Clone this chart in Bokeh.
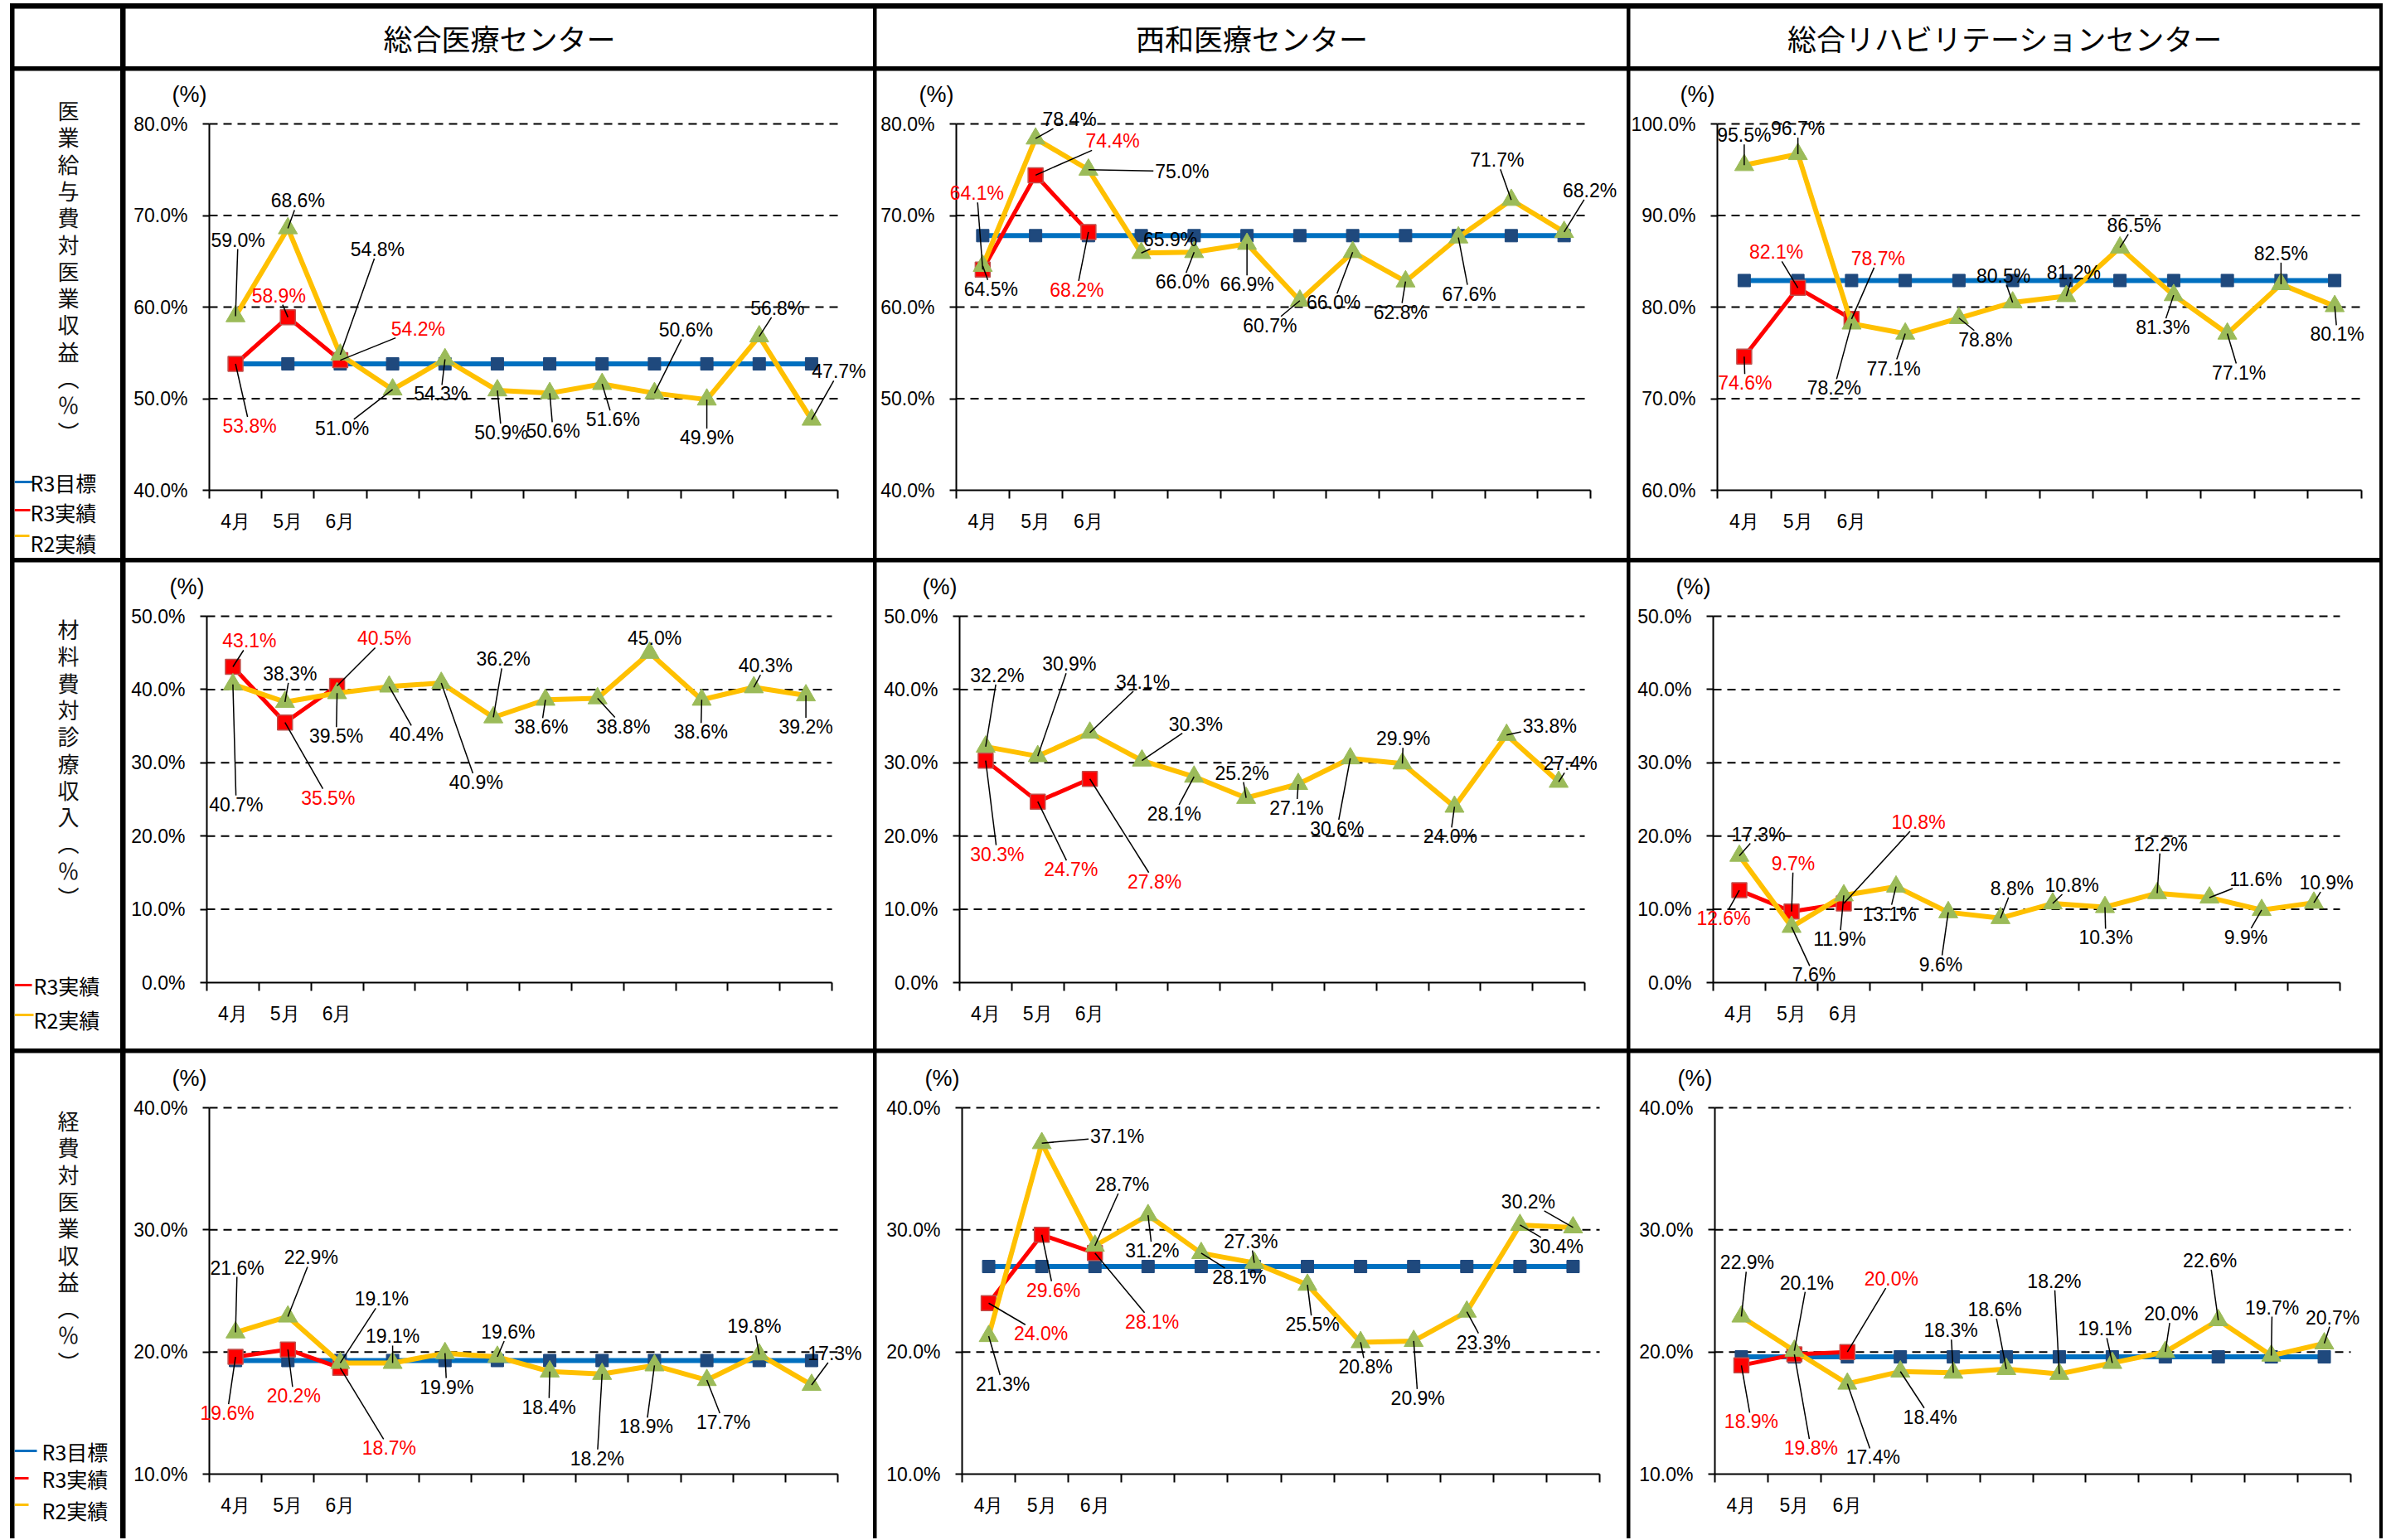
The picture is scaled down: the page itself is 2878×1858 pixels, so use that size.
import math
from bokeh.plotting import figure
from bokeh.models import Range1d, FixedTicker, PrintfTickFormatter, ColumnDataSource, LabelSet, Label, Spacer
from bokeh.layouts import row, column
from bokeh.embed import file_html
from bokeh.resources import INLINE
from bokeh.core.properties import value

# ---------------- data ----------------
months = ["4月", "5月", "6月", "7月", "8月", "9月", "10月", "11月", "12月", "1月", "2月", "3月"]
month_tick_labels = ["4月", "5月", "6月", "", "", "", "", "", "", "", "", ""]
centers = ["総合医療センター", "西和医療センター", "総合リハビリテーションセンター"]
metric_names = ["医業給与費対医業収益", "材料費対診療収入", "経費対医業収益"]
series_names = ["R3目標", "R3実績", "R2実績"]

# 医業給与費対医業収益
sogo_salary_target = [53.8, 53.8, 53.8, 53.8, 53.8, 53.8, 53.8, 53.8, 53.8, 53.8, 53.8, 53.8]
sogo_salary_r3 = [53.8, 58.9, 54.2]
sogo_salary_r2 = [59.0, 68.6, 54.8, 51.0, 54.3, 50.9, 50.6, 51.6, 50.6, 49.9, 56.8, 47.7]
seiwa_salary_target = [67.8, 67.8, 67.8, 67.8, 67.8, 67.8, 67.8, 67.8, 67.8, 67.8, 67.8, 67.8]
seiwa_salary_r3 = [64.1, 74.4, 68.2]
seiwa_salary_r2 = [64.5, 78.4, 75.0, 65.9, 66.0, 66.9, 60.7, 66.0, 62.8, 67.6, 71.7, 68.2]
reha_salary_target = [82.9, 82.9, 82.9, 82.9, 82.9, 82.9, 82.9, 82.9, 82.9, 82.9, 82.9, 82.9]
reha_salary_r3 = [74.6, 82.1, 78.7]
reha_salary_r2 = [95.5, 96.7, 78.2, 77.1, 78.8, 80.5, 81.2, 86.5, 81.3, 77.1, 82.5, 80.1]

# 材料費対診療収入
sogo_material_r3 = [43.1, 35.5, 40.5]
sogo_material_r2 = [40.7, 38.3, 39.5, 40.4, 40.9, 36.2, 38.6, 38.8, 45.0, 38.6, 40.3, 39.2]
seiwa_material_r3 = [30.3, 24.7, 27.8]
seiwa_material_r2 = [32.2, 30.9, 34.1, 30.3, 28.1, 25.2, 27.1, 30.6, 29.9, 24.0, 33.8, 27.4]
reha_material_r3 = [12.6, 9.7, 10.8]
reha_material_r2 = [17.3, 7.6, 11.9, 13.1, 9.6, 8.8, 10.8, 10.3, 12.2, 11.6, 9.9, 10.9]

# 経費対医業収益
sogo_expense_target = [19.3, 19.3, 19.3, 19.3, 19.3, 19.3, 19.3, 19.3, 19.3, 19.3, 19.3, 19.3]
sogo_expense_r3 = [19.6, 20.2, 18.7]
sogo_expense_r2 = [21.6, 22.9, 19.1, 19.1, 19.9, 19.6, 18.4, 18.2, 18.9, 17.7, 19.8, 17.3]
seiwa_expense_target = [27.0, 27.0, 27.0, 27.0, 27.0, 27.0, 27.0, 27.0, 27.0, 27.0, 27.0, 27.0]
seiwa_expense_r3 = [24.0, 29.6, 28.1]
seiwa_expense_r2 = [21.3, 37.1, 28.7, 31.2, 28.1, 27.3, 25.5, 20.8, 20.9, 23.3, 30.4, 30.2]
reha_expense_target = [19.6, 19.6, 19.6, 19.6, 19.6, 19.6, 19.6, 19.6, 19.6, 19.6, 19.6, 19.6]
reha_expense_r3 = [18.9, 19.8, 20.0]
reha_expense_r2 = [22.9, 20.1, 17.4, 18.4, 18.3, 18.6, 18.2, 19.1, 20.0, 22.6, 19.7, 20.7]

# ---------------- label placement (screen px offsets: dx right, dy up) ----------------
lab_p1_r2 = [(3, 92), (12, 33), (45, 127), (-61, -47), (-5, -42), (5, -51), (4, -46), (13, -43), (38, 76), (0, -46), (22, 34), (33, 58)]
lab_p1_r3 = [(17, -75), (-11, 26), (94, 38)]
lab_p2_r2 = [(10, -28), (41, 23), (113, -2), (35, 16), (-14, -36), (0, -49), (-36, -30), (-23, -61), (-6, -37), (13, -68), (-17, 48), (31, 50)]
lab_p2_r3 = [(-7, 92), (93, 41), (-14, -70)]
lab_p3_r2 = [(0, 36), (0, 31), (-21, -78), (-14, -42), (32, -26), (-11, 32), (9, 28), (17, 27), (-13, -39), (14, -47), (0, 37), (3, -34)]
lab_p3_r3 = [(1, -32), (-26, 43), (32, 73)]
lab_p4_r2 = [(4, -145), (6, 34), (-1, -52), (33, -58), (42, -120), (12, 70), (-5, -33), (31, -34), (6, 18), (-1, -39), (14, 26), (0, -38)]
lab_p4_r3 = [(20, 31), (52, -91), (57, 57)]
lab_p5_r2 = [(14, 86), (38, 111), (64, 61), (65, 44), (-24, -45), (-5, 30), (-2, -29), (-16, -85), (1, 30), (-5, -36), (52, 11), (14, 22)]
lab_p5_r3 = [(14, -113), (40, -82), (78, -124)]
lab_p6_r2 = [(23, 26), (27, -58), (-5, -53), (-8, -33), (-9, -63), (14, 36), (23, 22), (1, -37), (4, 59), (56, 22), (-19, -33), (15, 24)]
lab_p6_r3 = [(-19, -34), (2, 58), (90, 98)]
lab_p7_r2 = [(2, 78), (28, 71), (50, 77), (0, 32), (2, -41), (13, 30), (-1, -43), (-6, -102), (-10, -74), (20, -51), (-6, 34), (28, 38)]
lab_p7_r3 = [(-10, -68), (7, -56), (59, -97)]
lab_p8_r2 = [(17, -58), (91, 8), (33, 74), (5, -43), (46, -29), (-4, 26), (6, -48), (6, -30), (5, -69), (20, -37), (44, -26), (-54, 31)]
lab_p8_r3 = [(63, -37), (14, -67), (69, -83)]
lab_p9_r2 = [(7, 65), (15, 82), (31, -89), (36, -55), (-3, 51), (-14, 72), (-6, 112), (-9, 41), (7, 46), (-10, 72), (1, 58), (10, 31)]
lab_p9_r3 = [(12, -68), (20, -113), (53, 88)]

NUM_FONT = "Liberation Sans"
JP_FONT = "Noto Sans CJK JP"
C_TARGET_LINE = "#0070C0"
C_TARGET_MARK = "#1F497D"
C_R3 = "#FF0000"
C_R3_EDGE = "#C0504D"
C_R2 = "#FFC000"
C_R2_MARK = "#9BBB59"

W_LEFT = 128
W_P = [902, 905, 904]
H_HEAD = 70
H_ROWS = [588, 587, 586]
# frame insets inside each cell: left, right, top, bottom
BORDERS = [
    [(101, 43, 64, 82), (96, 44, 64, 82), (105, 22, 64, 82)],
    [(98, 50, 65, 80), (100, 51, 65, 80), (100, 48, 65, 80)],
    [(101, 43, 66, 78), (103, 33, 66, 78), (102, 35, 66, 78)],
]
YRANGES = [
    [(40, 80), (40, 80), (60, 100)],
    [(0, 50), (0, 50), (0, 50)],
    [(10, 40), (10, 40), (10, 40)],
]


def blank_cell(w, h):
    p = figure(width=w, height=h, x_range=Range1d(0, w), y_range=Range1d(0, h),
               toolbar_location=None, output_backend="svg", title=None,
               x_axis_location=None, y_axis_location=None, min_border=0)
    p.grid.visible = False
    p.outline_line_color = None
    p.background_fill_color = "white"
    p.border_fill_color = "white"
    return p


def text_width(t):
    w = 0
    for ch in t:
        if ch.isdigit():
            w += 12.8
        elif ch == ".":
            w += 6.4
        elif ch == "%":
            w += 20.4
    return w


def add_labels(p, xs, vals, offs, color, sx, sy):
    lx, ly, txt = [], [], []
    x0s, y0s, x1s, y1s = [], [], [], []
    for xi, v, (dx, dy) in zip(xs, vals, offs):
        t = f"{v:.1f}%"
        lx.append(xi + dx / sx)
        ly.append(v + dy / sy)
        txt.append(t)
        hw = text_width(t) / 2 + 2
        hh = 11
        vx, vy = -dx, -dy
        ts = []
        if abs(vx) > 1e-9:
            ts.append(hw / abs(vx))
        if abs(vy) > 1e-9:
            ts.append(hh / abs(vy))
        tt = min(ts) if ts else 1.0
        if tt < 1.0:
            bx, by = dx + tt * vx, dy + tt * vy
            if math.hypot(bx, by) > 12:
                x0s.append(xi)
                y0s.append(v)
                x1s.append(xi + bx / sx)
                y1s.append(v + by / sy)
    if x0s:
        p.segment(x0=x0s, y0=y0s, x1=x1s, y1=y1s, line_color="black", line_width=1.5)
    src = ColumnDataSource(dict(x=lx, y=ly, text=txt))
    p.add_layout(LabelSet(x="x", y="y", text="text", source=src, text_align="center",
                          text_baseline="middle", text_font=value(NUM_FONT),
                          text_font_size=value("23px"), text_color=color))


def make_panel(w, h, borders, yrange, target, r3, r2, off_r2, off_r3):
    bl, br, bt, bb = borders
    ymin, ymax = yrange
    fw = w - bl - br
    fh = h - bt - bb
    sx = fw / 12.0
    sy = fh / float(ymax - ymin)
    p = figure(width=w, height=h,
               x_range=Range1d(0.5 - bl / sx, 12.5 + br / sx),
               y_range=Range1d(ymin - bb / sy, ymax + bt / sy),
               toolbar_location=None, output_backend="svg", title=None, min_border=0)
    p.background_fill_color = "white"
    p.border_fill_color = "white"
    p.outline_line_color = None
    p.xgrid.visible = False
    p.ygrid.visible = False

    yticks = list(range(ymin, ymax + 1, 10))
    yax = p.yaxis[0]
    yax.fixed_location = 0.5
    yax.bounds = (ymin, ymax)
    yax.ticker = FixedTicker(ticks=yticks)
    yax.formatter = PrintfTickFormatter(format="%.1f%%")
    yax.major_label_text_font = NUM_FONT
    yax.major_label_text_font_size = "23px"
    yax.major_label_text_color = "black"
    yax.major_tick_out = 8
    yax.major_tick_in = 0
    yax.major_tick_line_width = 2
    yax.major_tick_line_color = "black"
    yax.minor_tick_line_color = None
    yax.axis_line_width = 2
    yax.axis_line_color = "black"
    yax.major_label_standoff = 18

    xs = list(range(1, 13))
    xax = p.xaxis[0]
    xax.fixed_location = ymin
    xax.bounds = (0.5, 12.5)
    xax.ticker = FixedTicker(ticks=xs, minor_ticks=[i + 0.5 for i in range(13)])
    xax.major_label_overrides = {i + 1: lab for i, lab in enumerate(month_tick_labels)}
    xax.major_label_text_font = NUM_FONT
    xax.major_label_text_font_size = "23px"
    xax.major_label_text_color = "black"
    xax.major_tick_line_color = None
    xax.major_tick_out = 0
    xax.major_tick_in = 0
    xax.minor_tick_out = 10
    xax.minor_tick_in = 0
    xax.minor_tick_line_width = 2
    xax.minor_tick_line_color = "black"
    xax.axis_line_width = 2
    xax.axis_line_color = "black"
    xax.major_label_standoff = 14

    # dashed horizontal gridlines across the plotting area
    gl = yticks[1:]
    p.segment(x0=[0.5] * len(gl), x1=[12.5] * len(gl), y0=gl, y1=gl,
              line_color="black", line_width=2, line_dash="10 7")

    if target is not None:
        p.line(xs, target, line_color=C_TARGET_LINE, line_width=6)
        p.scatter(xs, target, marker="square", size=15, fill_color=C_TARGET_MARK, line_color=C_TARGET_MARK)
    x3 = xs[:len(r3)]
    p.line(x3, r3, line_color=C_R3, line_width=5)
    p.scatter(x3, r3, marker="square", size=18, fill_color=C_R3, line_color=C_R3_EDGE, line_width=1.5)
    p.line(xs, r2, line_color=C_R2, line_width=6)
    p.scatter(xs, r2, marker="triangle", size=23, fill_color=C_R2_MARK, line_color=C_R2_MARK)

    add_labels(p, xs, r2, off_r2, "black", sx, sy)
    add_labels(p, x3, r3, off_r3, C_R3, sx, sy)

    p.add_layout(Label(x=0.5 - 24 / sx, y=ymax + 36 / sy, text="(%)", text_align="center",
                       text_baseline="middle", text_font=NUM_FONT, text_font_size="27px",
                       text_color="black"))
    return p


def header_cell(w, h, txt):
    p = blank_cell(w, h)
    if txt:
        p.text(x=[w / 2], y=[h / 2], text=[txt], text_align="center", text_baseline="middle",
               text_font=value(JP_FONT), text_font_size=value("35px"), text_color="black")
    return p


def left_cell(h, name, first_y, legend):
    p = blank_cell(W_LEFT, h)
    chars = list(name) + ["︵", "％", "︶"]
    pitch = 32.3
    ys = [h - (first_y + k * pitch) for k in range(len(chars))]
    p.text(x=[65] * len(chars), y=ys, text=chars, text_align="center",
           text_baseline="middle", text_font=value(JP_FONT), text_font_size=value("26px"),
           text_color="#111111")
    for (x0, x1, ly, col, tx, ty, label) in legend:
        p.segment(x0=[x0], y0=[h - ly], x1=[x1], y1=[h - ly], line_color=col, line_width=3)
        p.text(x=[tx], y=[h - ty], text=[label], text_align="left", text_baseline="middle",
               text_font=value(JP_FONT), text_font_size=value("25px"), text_color="black")
    return p


legend_rows = [
    [(0, 22, 496, C_TARGET_LINE, 19, 496, series_names[0]),
     (0, 19, 530, C_R3, 19, 532, series_names[1]),
     (0, 18, 561, C_R2, 19, 569, series_names[2])],
    [(0, 21, 510, C_R3, 23, 510, series_names[1]),
     (0, 23, 546, C_R2, 23, 551, series_names[2])],
    [(0, 27, 480, C_TARGET_LINE, 33, 480, series_names[0]),
     (0, 17, 513, C_R3, 33, 513, series_names[1]),
     (0, 17, 545, C_R2, 33, 551, series_names[2])],
]
left_first = [47, 80, 81]

panel_data = [
    [(sogo_salary_target, sogo_salary_r3, sogo_salary_r2, lab_p1_r2, lab_p1_r3),
     (seiwa_salary_target, seiwa_salary_r3, seiwa_salary_r2, lab_p2_r2, lab_p2_r3),
     (reha_salary_target, reha_salary_r3, reha_salary_r2, lab_p3_r2, lab_p3_r3)],
    [(None, sogo_material_r3, sogo_material_r2, lab_p4_r2, lab_p4_r3),
     (None, seiwa_material_r3, seiwa_material_r2, lab_p5_r2, lab_p5_r3),
     (None, reha_material_r3, reha_material_r2, lab_p6_r2, lab_p6_r3)],
    [(sogo_expense_target, sogo_expense_r3, sogo_expense_r2, lab_p7_r2, lab_p7_r3),
     (seiwa_expense_target, seiwa_expense_r3, seiwa_expense_r2, lab_p8_r2, lab_p8_r3),
     (reha_expense_target, reha_expense_r3, reha_expense_r2, lab_p9_r2, lab_p9_r3)],
]

rows = []
hdr = row([header_cell(W_LEFT, H_HEAD, ""),
           row([header_cell(W_P[j], H_HEAD, centers[j]) for j in range(3)], spacing=4)],
          spacing=6)
rows.append(hdr)
for i in range(3):
    panels = []
    for j in range(3):
        tgt, r3, r2, o2, o3 = panel_data[i][j]
        panels.append(make_panel(W_P[j], H_ROWS[i], BORDERS[i][j], YRANGES[i][j], tgt, r3, r2, o2, o3))
    lc = left_cell(H_ROWS[i], metric_names[i], left_first[i], legend_rows[i])
    rows.append(row([lc, row(panels, spacing=4)], spacing=6))

table = column(rows, spacing=5,
               styles={"background-color": "black", "padding-left": "5px",
                       "padding-right": "4px", "padding-top": "6px"})

page = column([Spacer(width=10, height=4), row([Spacer(width=12, height=10), table], spacing=0)], spacing=0)

open("out.html", "w").write(file_html(page, INLINE))
